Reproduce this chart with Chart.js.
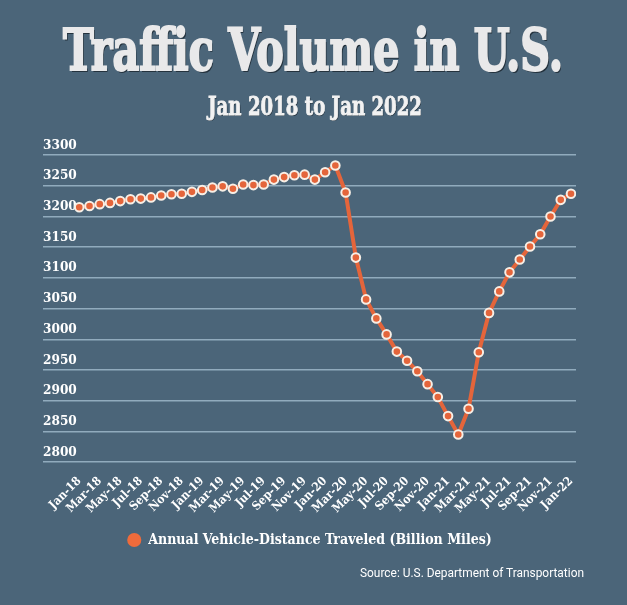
<!DOCTYPE html>
<html>
<head>
<meta charset="utf-8">
<script src="https://cdn.jsdelivr.net/npm/chart.js@4/dist/chart.umd.min.js"></script>
<style>
html,body{margin:0;padding:0;background:#4b6579;}
#wrap{position:relative;width:627px;height:605px;background:#4b6579;overflow:hidden;}
#c{position:absolute;left:0;top:0;}
.fit{position:absolute;white-space:nowrap;transform-origin:0 0;line-height:1;}
#title{font-family:'DejaVu Serif',serif;font-weight:bold;font-size:58px;color:#e9e9ea;-webkit-text-stroke:2.2px #e9e9ea;text-shadow:2px 2px 0 #24323d;}
#subtitle{font-family:'DejaVu Serif',serif;font-weight:bold;font-size:26px;color:#f2f2f2;-webkit-text-stroke:0.9px #f2f2f2;text-shadow:1px 1px 0 #24323d;}
#source{font-family:Roboto,'Noto Sans',sans-serif;font-size:12.5px;color:#ffffff;}
</style>
</head>
<body>
<div id="wrap">
  <canvas id="c" width="627" height="605"></canvas>
  <div class="fit" id="title" data-x="63" data-w="500" style="top:21px">Traffic Volume in U.S.</div>
  <div class="fit" id="subtitle" data-x="208" data-w="214" style="top:93px">Jan 2018 to Jan 2022</div>
  <div class="fit" id="source" data-x="360" data-w="224" style="top:567px">Source: U.S. Department of Transportation</div>
</div>
<script>
// ---- data ----
const months = [
  'Jan-18','Feb-18','Mar-18','Apr-18','May-18','Jun-18','Jul-18','Aug-18','Sep-18','Oct-18','Nov-18','Dec-18',
  'Jan-19','Feb-19','Mar-19','Apr-19','May-19','Jun-19','Jul-19','Aug-19','Sep-19','Oct-19','Nov-19','Dec-19',
  'Jan-20','Feb-20','Mar-20','Apr-20','May-20','Jun-20','Jul-20','Aug-20','Sep-20','Oct-20','Nov-20','Dec-20',
  'Jan-21','Feb-21','Mar-21','Apr-21','May-21','Jun-21','Jul-21','Aug-21','Sep-21','Oct-21','Nov-21','Dec-21',
  'Jan-22'
];
const vehicleMiles = [
  3215,3217,3220,3222,3225,3228,3229,3231,3234,3236,3237,3240,
  3243,3247,3249,3245,3252,3251,3252,3260,3264,3267,3268,3260,
  3272,3283,3239,3133,3065,3034,3008,2980,2965,2948,2927,2906,
  2875,2845,2887,2979,3043,3078,3109,3130,3151,3171,3200,3227,
  3237
];
const tickLabels = ['Jan-18','Mar-18','May-18','Jul-18','Sep-18','Nov-18','Jan-19','Mar-19','May-19','Jul-19','Sep-19','Nov-19',
  'Jan-20','Mar-20','May-20','Jul-20','Sep-20','Nov-20','Jan-21','Mar-21','May-21','Jul-21','Sep-21','Nov-21','Jan-22'];
const yTicks = [2800,2850,2900,2950,3000,3050,3100,3150,3200,3250,3300];
const seriesName = 'Annual Vehicle-Distance Traveled (Billion Miles)';

// ---- fit html text ----
document.querySelectorAll('.fit').forEach(el => {
  const w = el.getBoundingClientRect().width;
  const s = parseFloat(el.dataset.w) / w;
  el.style.left = el.dataset.x + 'px';
  el.style.transform = 'scaleX(' + s + ')';
});

const serif = "'DejaVu Serif Condensed','DejaVu Serif',serif";
const orange = '#e4653b';

new Chart(document.getElementById('c'), {
  type: 'line',
  data: {
    datasets: [{
      label: seriesName,
      data: vehicleMiles.map((v, i) => ({x: i, y: v})),
      borderColor: orange,
      borderWidth: 4,
      pointRadius: 4.3,
      pointBorderWidth: 2,
      pointBackgroundColor: orange,
      pointBorderColor: '#f7efe6',
      tension: 0
    }]
  },
  options: {
    responsive: false,
    animation: false,
    layout: {padding: {left: 43, right: 51, top: 155, bottom: 48}},
    scales: {
      x: {
        type: 'linear',
        min: -3.54,
        max: 48.49,
        grid: {display: false},
        border: {display: false},
        afterBuildTicks: (scale) => {
          scale.ticks = tickLabels.map(l => ({value: months.indexOf(l)}));
        },
        ticks: {
          autoSkip: false,
          minRotation: 45,
          maxRotation: 45,
          padding: 4,
          color: '#ffffff',
          font: {family: serif, weight: 'bold', size: 12},
          callback: (v) => months[v]
        }
      },
      y: {
        min: 2800,
        max: 3300,
        afterBuildTicks: (scale) => { scale.ticks = yTicks.map(v => ({value: v})); },
        grid: {color: 'rgba(168,195,212,0.75)', lineWidth: 1.6, drawTicks: false},
        border: {display: false},
        ticks: {
          mirror: true,
          padding: 0,
          labelOffset: -10,
          color: '#ffffff',
          font: {family: serif, weight: 'bold', size: 13.5},
          callback: (v) => String(v)
        }
      }
    },
    plugins: {
      legend: {
        position: 'bottom',
        labels: {
          usePointStyle: true,
          boxWidth: 14,
          boxHeight: 10,
          padding: 13,
          color: '#ffffff',
          font: {family: serif, weight: 'bold', size: 14},
          generateLabels: () => [{
            text: seriesName, fillStyle: '#ef6b3b', strokeStyle: '#ef6b3b', lineWidth: 0,
            pointStyle: 'circle', hidden: false, datasetIndex: 0, fontColor: '#ffffff'
          }]
        }
      },
      tooltip: {enabled: false}
    }
  }
});
</script>
</body>
</html>
